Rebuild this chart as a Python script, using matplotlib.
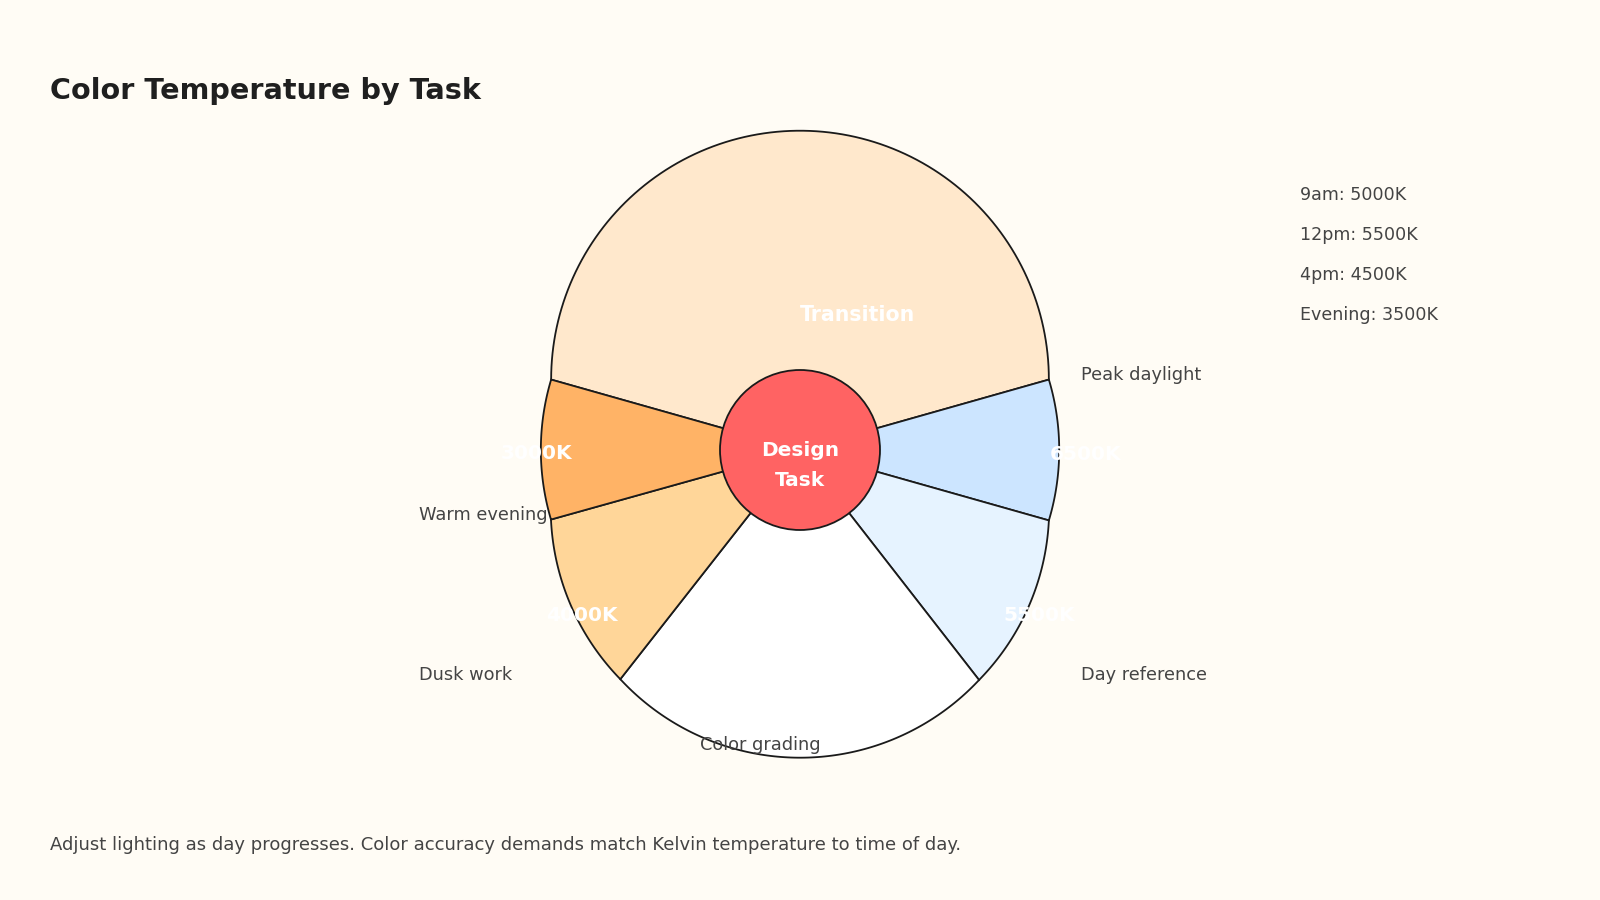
import matplotlib.pyplot as plt
import numpy as np
from matplotlib.path import Path
from matplotlib.patches import PathPatch, Circle

# data
tasks = ["Transition", "Peak daylight", "Day reference", "Color grading", "Dusk work", "Warm evening"]
spans = [148.4, 31.6, 36.3, 76.0, 36.3, 31.4]    # degrees, clockwise
inner_text = ["Transition", "6500K", "5500K", None, "4000K", "3000K"]
schedule = ["9am: 5000K", "12pm: 5500K", "4pm: 4500K", "Evening: 3500K"]

colors = ["#FFE8CC", "#CCE5FF", "#E6F3FF", "#FFFFFF", "#FFD699", "#FFB366"]
bg = "#FFFCF5"
edge = "#1A1A1A"
grey = "#444444"

# layout (pixels, y grows downwards)
cx, cy = 800, 450
rim_a, rim_b = 255, 323       # ellipse that carries the wedge corners
arc_r = 245                   # radius of each outer arc
start = 164.2
# outer name labels: offset of left edge / vertical centre from the hub
name_pos = {"Peak daylight": (281, -75), "Day reference": (281, 224.5),
            "Warm evening": (-381, 64.5), "Dusk work": (-381, 224.5),
            "Color grading": (-100, 295)}


def rim(theta):
    t = np.deg2rad(theta)
    r = 1 / np.sqrt(np.cos(t) ** 2 / rim_a ** 2 + np.sin(t) ** 2 / rim_b ** 2)
    return np.array([r * np.cos(t), r * np.sin(t)])


def outer_arc(p1, p2, R):
    # clockwise arc bulging away from the hub (math coords)
    m = (p1 + p2) / 2
    h = np.linalg.norm(p2 - p1) / 2
    R = max(R, h)
    u = (p2 - p1) / (2 * h)
    c = m + np.sqrt(R ** 2 - h ** 2) * np.array([u[1], -u[0]])
    a1 = np.arctan2(*(p1 - c)[::-1])
    a2 = np.arctan2(*(p2 - c)[::-1])
    if a2 > a1:
        a2 -= 2 * np.pi
    a = np.linspace(a1, a2, 120)
    return np.column_stack([c[0] + R * np.cos(a), c[1] + R * np.sin(a)])


fig = plt.figure(figsize=(16, 9), dpi=100, facecolor=bg)
ax = fig.add_axes([0, 0, 1, 1])
ax.set_xlim(0, 1600)
ax.set_ylim(900, 0)
ax.axis("off")

theta = start
for name, span, col, txt in zip(tasks, spans, colors, inner_text):
    t1, t2 = theta, theta - span
    pts = outer_arc(rim(t1), rim(t2), arc_r)
    verts = np.vstack([[0, 0], pts, [0, 0]])
    verts = np.column_stack([cx + verts[:, 0], cy - verts[:, 1]])
    codes = [Path.MOVETO] + [Path.LINETO] * (len(verts) - 2) + [Path.CLOSEPOLY]
    ax.add_patch(PathPatch(Path(verts, codes), facecolor=col, edgecolor=edge, lw=1.3, zorder=2))

    mid = np.deg2rad((t1 + t2) / 2)
    if name == "Transition":
        ax.text(cx, cy - 135, txt, color="white", fontsize=14.8, fontweight="bold",
                ha="left", va="center", zorder=4)
    elif txt:
        ax.text(cx + 275 * np.cos(mid) + 11, cy - 290 * np.sin(mid) + 4, txt,
                color="white", fontsize=14.5, fontweight="bold", ha="center", va="center", zorder=4)
    if name in name_pos:
        dx, dy = name_pos[name]
        ax.text(cx + dx, cy + dy, name, color=grey, fontsize=12.8, ha="left", va="center", zorder=4)
    theta = t2

ax.add_patch(Circle((cx, cy), 80, facecolor="#FF6363", edgecolor=edge, lw=1.3, zorder=3))
ax.text(cx, cy + 1, "Design", color="white", fontsize=14.5, fontweight="bold",
        ha="center", va="center", zorder=4)
ax.text(cx, cy + 31, "Task", color="white", fontsize=14.5, fontweight="bold",
        ha="center", va="center", zorder=4)

for i, s in enumerate(schedule):
    ax.text(1300, 195 + 40 * i, s, color=grey, fontsize=12.6, ha="left", va="center")

ax.text(50, 91, "Color Temperature by Task", color="#1F1F1F", fontsize=20.6,
        fontweight="bold", ha="left", va="center")
ax.text(50, 845, "Adjust lighting as day progresses. Color accuracy demands match Kelvin "
        "temperature to time of day.", color=grey, fontsize=13.0, ha="left", va="center")

fig.savefig("out.png", dpi=100, facecolor=bg)
